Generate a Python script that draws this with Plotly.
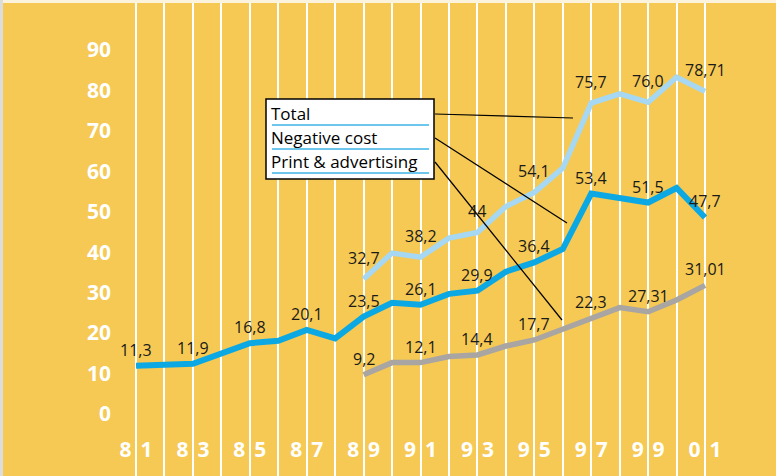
import plotly.graph_objects as go

# Values (millions)
years_total = [1989, 1990, 1991, 1992, 1993, 1994, 1995, 1996, 1997, 1998, 1999, 2000, 2001]
total = [33.4, 39.8, 38.8, 43.5, 44.9, 51.3, 54.8, 60.8, 76.9, 79.2, 77.1, 83.3, 79.8]

years_neg = [1981, 1983, 1985, 1986, 1987, 1988, 1989, 1990, 1991, 1992, 1993, 1994,
             1995, 1996, 1997, 1998, 1999, 2000, 2001]
negative_cost = [11.9, 12.4, 17.5, 18.1, 20.8, 18.7, 24.1, 27.5, 27.0, 29.7, 30.5, 35.2,
                 37.5, 40.8, 54.5, 53.4, 52.3, 55.9, 48.6]

years_print = [1989, 1990, 1991, 1992, 1993, 1994, 1995, 1996, 1997, 1998, 1999, 2000, 2001]
print_adv = [9.7, 12.7, 12.7, 14.2, 14.6, 16.8, 18.3, 21.0, 23.7, 26.3, 25.3, 28.2, 31.8]

# Printed value labels
label_years_total = [1989, 1991, 1993, 1995, 1997, 1999, 2001]
labels_total = ["32,7", "38,2", "44", "54,1", "75,7", "76,0", "78,71"]
label_years_neg = [1981, 1983, 1985, 1987, 1989, 1991, 1993, 1995, 1997, 1999, 2001]
labels_neg = ["11,3", "11,9", "16,8", "20,1", "23,5", "26,1", "29,9", "36,4", "53,4", "51,5", "47,7"]
label_years_print = [1989, 1991, 1993, 1995, 1997, 1999, 2001]
labels_print = ["9,2", "12,1", "14,4", "17,7", "22,3", "27,31", "31,01"]

grid_years = list(range(1981, 2002))
x_tick_text = ["%s\u00a0\u2006%s" % tuple(f"{y % 100:02d}") if y % 2 == 1 else "" for y in grid_years]
y_ticks = list(range(0, 100, 10))

BG = "#F5C953"
C_TOTAL = "#A6D8F3"
C_NEG = "#0BA8E4"
C_PRINT = "#A8A5A2"

W, H = 776, 476
L = 112
PW = W - L
X0, X1 = 1980.156, 2003.495
Y0, Y1 = -15.35, 102.4


def px(x):
    return (x - L) / PW


def py(y):
    return 1 - y / H


fig = go.Figure()
fig.add_trace(go.Scatter(x=years_print, y=print_adv, mode="lines",
                         line=dict(color=C_PRINT, width=5.5)))
fig.add_trace(go.Scatter(x=years_neg, y=negative_cost, mode="lines",
                         line=dict(color=C_NEG, width=6)))
fig.add_trace(go.Scatter(x=years_total, y=total, mode="lines",
                         line=dict(color=C_TOTAL, width=5.5)))

lookup = [
    (label_years_neg, labels_neg, dict(zip(years_neg, negative_cost)), 16),
    (label_years_total, labels_total, dict(zip(years_total, total)), 21),
    (label_years_print, labels_print, dict(zip(years_print, print_adv)), 16),
]
for yrs, txts, vals, shift in lookup:
    for yr, txt in zip(yrs, txts):
        fig.add_annotation(x=yr, y=vals[yr], text=txt, showarrow=False,
                           yshift=shift, font=dict(family="Open Sans", size=16, color="#1a1a1a"))

# legend box with leader lines
fig.add_shape(type="rect", xref="paper", yref="paper",
              x0=px(266), x1=px(434), y0=py(179), y1=py(99),
              fillcolor="white", line=dict(color="black", width=1.5))
legend_items = [("Total", 113, 125, (573, 118)),
                ("Negative cost", 137, 149, (567, 223)),
                ("Print & advertising", 161, 173, (562, 320))]
for name, ty, uy, (ex, ey) in legend_items:
    fig.add_annotation(xref="paper", yref="paper", x=px(269), y=py(ty), text=name,
                       showarrow=False, xanchor="left", yanchor="middle",
                       font=dict(family="Open Sans", size=17, color="black"))
    fig.add_shape(type="line", xref="paper", yref="paper",
                  x0=px(272), x1=px(429), y0=py(uy), y1=py(uy),
                  line=dict(color="#3DB3E6", width=1.5))
    fig.add_shape(type="line", xref="paper", yref="paper",
                  x0=px(435), x1=px(ex), y0=py(ty + 1), y1=py(ey),
                  line=dict(color="black", width=1.2))

# scan edges: white strip on top, grey strip on the left
fig.add_shape(type="rect", xref="paper", yref="paper", x0=px(0), x1=px(W), y0=py(3), y1=py(0),
              fillcolor="#FBF3DC", line=dict(width=0))
fig.add_shape(type="rect", xref="paper", yref="paper", x0=px(0), x1=px(3), y0=py(H), y1=py(0),
              fillcolor="#DCDCDC", line=dict(width=0))

fig.update_layout(
    width=W, height=H,
    margin=dict(l=L, r=0, t=0, b=0),
    paper_bgcolor=BG, plot_bgcolor=BG,
    showlegend=False,
    xaxis=dict(range=[X0, X1], tickvals=grid_years, ticktext=x_tick_text,
               showgrid=True, gridcolor="white", gridwidth=1.5, zeroline=False,
               ticks="", ticklabelposition="inside", ticklabelstandoff=12,
               automargin=False,
               tickfont=dict(family="Open Sans", size=21, color="white", weight="bold")),
    yaxis=dict(range=[Y0, Y1], tickvals=y_ticks, showgrid=False, zeroline=False,
               ticks="", automargin=False,
               tickfont=dict(family="Open Sans", size=21, color="white", weight="bold")),
)

fig.write_html("out.html", config={"displayModeBar": False},
               post_script="document.body.style.margin='0';document.body.style.overflow='hidden';")
